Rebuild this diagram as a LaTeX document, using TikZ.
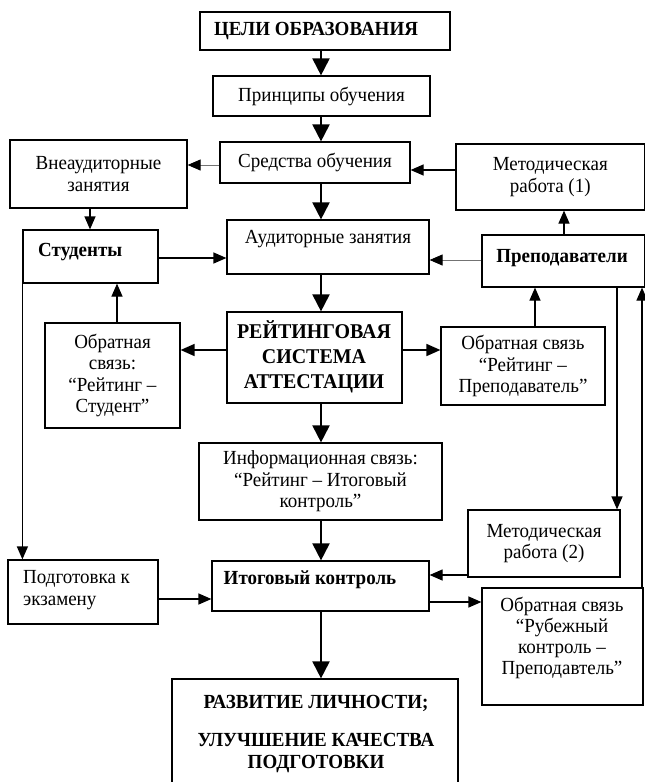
\documentclass[tikz,border=0pt]{standalone}
\usepackage{fontspec}
\setmainfont{Liberation Serif}[FakeStretch=0.95]
\usetikzlibrary{arrows.meta,calc}
\newcommand\boxat[6]{\node[box, minimum width={#4-#2}, minimum height={#5-#3}] (#1) at ({(#2+#4)/2},{(#3+#5)/2}) {#6};}
\tikzset{
  box/.style={draw, line width=1.2pt, inner sep=0pt, align=center, font=\fontsize{20}{21.5}\selectfont},
  txt/.style={inner sep=0pt, align=center, font=\fontsize{20}{21.5}\selectfont},
  btxt/.style={inner sep=0pt, align=center, font=\fontsize{20}{22}\selectfont\bfseries},
  big/.style={line width=2pt, -{Triangle[length=17pt,width=17pt]}},
  med/.style={line width=1.6pt, -{Triangle[length=14pt,width=12pt]}},
  thinarr/.style={line width=1.2pt, -{Triangle[length=13pt,width=11pt]}},
  faint/.style={line width=0.9pt, draw=black!55, -{Triangle[length=13pt,width=11pt,color=black]}},
}
\begin{document}
\begin{tikzpicture}[x=1pt,y=-1pt]
\useasboundingbox (0,0) rectangle (645,782);
% boxes
\boxat{goal}{200}{12}{450}{50}{}
\node[btxt] (goalT) at (316,31) {ЦЕЛИ ОБРАЗОВАНИЯ};
\boxat{princ}{213}{76}{430}{116}{Принципы обучения}
\boxat{sred}{220}{142}{410}{183}{Средства обучения}
\boxat{vne}{10}{140}{187}{208}{Внеаудиторные\\занятия}
\boxat{met1}{456}{144}{644.5}{210}{Методическая\\работа (1)}
\boxat{stud}{23}{230}{158}{283}{}
\node[btxt, anchor=west] (studT) at (38,252) {Студенты};
\boxat{aud}{227}{220}{429}{274}{}
\node[txt] (audT) at (328,239) {Аудиторные занятия};
\boxat{prep}{482}{235}{644.5}{287}{}
\node[btxt] (prepT) at (562,258) {Преподаватели};
\boxat{reit}{227}{312}{402}{403}{}
\node[btxt, font=\fontsize{21}{25}\selectfont\bfseries] (reitT) at (314,357) {РЕЙТИНГОВАЯ\\СИСТЕМА\\АТТЕСТАЦИИ};
\boxat{obst}{45}{323}{180}{428}{Обратная\\связь:\\“Рейтинг –\\Студент”}
\boxat{obpr}{441}{327}{605}{405}{Обратная связь\\“Рейтинг –\\Преподаватель”}
\boxat{info}{199}{443}{442}{520}{Информационная связь:\\“Рейтинг – Итоговый\\контроль”}
\boxat{met2}{468}{510}{620}{577}{Методическая\\работа (2)}
\boxat{podg}{8}{560}{158}{624}{}
\node[txt, align=left, anchor=west] (podgT) at (23,590) {Подготовка к\\экзамену};
\boxat{itog}{212}{561}{429}{611}{}
\node[btxt] (itogT) at (310,580) {Итоговый контроль};
\boxat{rub}{482}{588}{643}{705}{}
\node[txt, font=\fontsize{20}{21}\selectfont] (rubT) at (562,638) {Обратная связь\\“Рубежный\\контроль –\\Преподавтель”};
\boxat{razv}{172}{679}{458}{786}{}
\node[btxt] (razvT) at (316,734) {РАЗВИТИЕ ЛИЧНОСТИ;\\[16pt]УЛУЧШЕНИЕ КАЧЕСТВА\\ПОДГОТОВКИ};
% helper coordinates
\coordinate (ax) at (321,0);
\coordinate (r1) at (0,165);
\coordinate (r2) at (0,170);
\coordinate (r3) at (0,258);
\coordinate (r4) at (0,260);
\coordinate (r5) at (0,350);
\coordinate (r6) at (0,575);
\coordinate (r7) at (0,599);
\coordinate (r8) at (0,602);
\coordinate (c1) at (90,0);
\coordinate (c2) at (564,0);
\coordinate (c3) at (117,0);
\coordinate (c4) at (535,0);
\coordinate (c5) at (617,0);
\coordinate (c6) at (642,0);
% central column
\draw[big] (goal.south -| ax) -- (princ.north -| ax);
\draw[big] (princ.south -| ax) -- (sred.north -| ax);
\draw[big] (sred.south -| ax) -- (aud.north -| ax);
\draw[big] (aud.south -| ax) -- (reit.north -| ax);
\draw[big] (reit.south -| ax) -- (info.north -| ax);
\draw[big] (info.south -| ax) -- (itog.north -| ax);
\draw[big] (itog.south -| ax) -- (razv.north -| ax);
% side connectors
\draw[faint] (sred.west |- r1) -- (vne.east |- r1);
\draw[thinarr] (met1.west |- r2) -- (sred.east |- r2);
\draw[thinarr] (vne.south -| c1) -- (stud.north -| c1);
\draw[thinarr] (stud.east |- r3) -- (aud.west |- r3);
\draw[faint] (prep.west |- r4) -- (aud.east |- r4);
\draw[thinarr] (prep.north -| c2) -- (met1.south -| c2);
\draw[med] (reit.west |- r5) -- (obst.east |- r5);
\draw[med] (reit.east |- r5) -- (obpr.west |- r5);
\draw[thinarr] (obst.north -| c3) -- (stud.south -| c3);
\draw[thinarr] (obpr.north -| c4) -- (prep.south -| c4);
\draw[thinarr] (prep.south -| c5) -- (met2.north -| c5);
\draw[thinarr] (rub.north -| c6) -- (prep.south -| c6);
\draw[thinarr] (stud.south west) -- (podg.north -| stud.south west);
\draw[thinarr] (met2.west |- r6) -- (itog.east |- r6);
\draw[thinarr] (podg.east |- r7) -- (itog.west |- r7);
\draw[thinarr] (itog.east |- r8) -- (rub.west |- r8);
\end{tikzpicture}
\end{document}
